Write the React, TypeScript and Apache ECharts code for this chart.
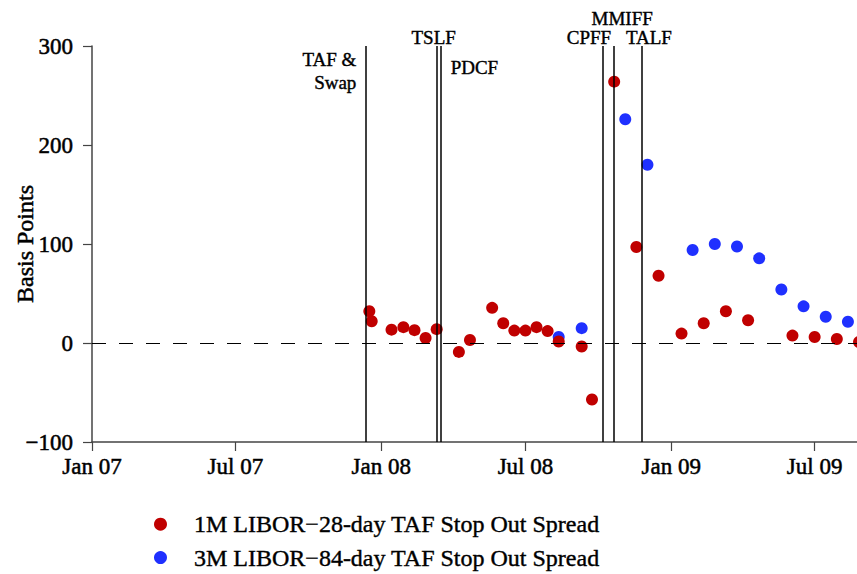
import React, { useEffect, useRef } from "react";
import * as echarts from "echarts";

const red1MDates = [
  "2007-12-17", "2007-12-20", "2008-01-14", "2008-01-29", "2008-02-12", "2008-02-26",
  "2008-03-11", "2008-04-08", "2008-04-22", "2008-05-20", "2008-06-03", "2008-06-17",
  "2008-07-01", "2008-07-15", "2008-07-29", "2008-08-12", "2008-09-10", "2008-09-23",
  "2008-10-21", "2008-11-18", "2008-12-16", "2009-01-14", "2009-02-11", "2009-03-11",
  "2009-04-08", "2009-06-03", "2009-07-01", "2009-07-29", "2009-08-26",
];
const red1MValues = [
  32, 22, 13.5, 16, 13, 5,
  14, -9, 3, 35.5, 20, 12.5,
  12.5, 16, 12, 1.5, -3.5, -57,
  264, 97, 68, 9.5, 20, 32,
  23, 7.5, 6, 4, 1,
];

const blue3MDates = [
  "2008-08-12", "2008-09-10", "2008-11-04", "2008-12-02", "2009-01-28", "2009-02-25",
  "2009-03-25", "2009-04-22", "2009-05-20", "2009-06-17", "2009-07-15", "2009-08-12",
];
const blue3MValues = [6, 15, 226, 180, 94, 100, 97.5, 85.5, 54, 37, 26.5, 21.5];

const eventNames = ["TAF &\nSwap", "TSLF", "PDCF", "CPFF", "MMIFF", "TALF"];
const eventDates = ["2007-12-12", "2008-03-11", "2008-03-16", "2008-10-07", "2008-10-21", "2008-11-25"];

const xTickDates = ["2007-01-01", "2007-07-01", "2008-01-01", "2008-07-01", "2009-01-01", "2009-07-01"];
const xTickLabels = ["Jan 07", "Jul 07", "Jan 08", "Jul 08", "Jan 09", "Jul 09"];
const yTicks = [-100, 0, 100, 200, 300];

const seriesNames = ["1M LIBOR\u221228-day TAF Stop Out Spread", "3M LIBOR\u221284-day TAF Stop Out Spread"];

const ts = (s: string) => {
  const [y, m, d] = s.split("-").map(Number);
  return Date.UTC(y, m - 1, d);
};

const FONT = "'Liberation Serif', 'Times New Roman', serif";
const RED = "#C00000";
const BLUE = "#1F30FF";
const heavy = { textBorderColor: "#000", textBorderWidth: 0.5 };

export default function App() {
  const ref = useRef<HTMLDivElement>(null);
  useEffect(() => {
    if (!ref.current) return;
    const chart = echarts.init(ref.current, null, { renderer: "svg" });
    const tickVals = xTickDates.map(ts);
    chart.setOption({
      animation: false,
      grid: { left: 92, top: 46, bottom: 132, right: -25, containLabel: false, outerBoundsMode: "none" },
      legend: {
        orient: "vertical",
        left: 154,
        top: 512,
        padding: 0,
        icon: "circle",
        itemWidth: 13,
        itemHeight: 13,
        itemGap: 9,
        data: [seriesNames[0], seriesNames[1]],
        textStyle: { fontFamily: FONT, fontSize: 24, color: "#000", padding: [0, 0, 0, 22], ...heavy, textBorderWidth: 0.4 },
      },
      xAxis: {
        type: "value",
        min: ts("2007-01-01"),
        max: ts("2009-09-24"),
        scale: true,
        splitLine: { show: false },
        axisLine: { onZero: false, lineStyle: { color: "#444", width: 1.5 } },
        axisTick: { show: true, customValues: tickVals, length: 9, lineStyle: { color: "#444", width: 1.2 } },
        axisLabel: {
          customValues: tickVals,
          margin: 13,
          fontFamily: FONT,
          fontSize: 23,
          color: "#000",
          ...heavy,
          formatter: (v: number) => {
            const i = tickVals.indexOf(v);
            return i >= 0 ? xTickLabels[i] : "";
          },
        },
      },
      yAxis: {
        type: "value",
        min: yTicks[0],
        max: yTicks[yTicks.length - 1],
        interval: 100,
        name: "Basis Points",
        nameLocation: "middle",
        nameGap: 55,
        nameMoveOverlap: false,
        nameRotate: 90,
        nameTextStyle: { fontFamily: FONT, fontSize: 24, color: "#000", ...heavy },
        splitLine: { show: false },
        axisLine: { show: true, onZero: false, lineStyle: { color: "#444", width: 1.5 } },
        axisTick: { show: true, length: 9, lineStyle: { color: "#444", width: 1.2 } },
        axisLabel: {
          margin: 19,
          fontFamily: FONT,
          fontSize: 23,
          color: "#000",
          ...heavy,
          formatter: (v: number) => String(v).replace("-", "\u2212"),
        },
      },
      series: [
        {
          name: seriesNames[1],
          type: "scatter",
          symbol: "circle",
          symbolSize: 12,
          itemStyle: { color: BLUE, opacity: 1 },
          data: blue3MDates.map((d, i) => [ts(d), blue3MValues[i]]),
          z: 3,
        },
        {
          name: seriesNames[0],
          type: "scatter",
          symbol: "circle",
          symbolSize: 12,
          itemStyle: { color: RED, opacity: 1 },
          data: red1MDates.map((d, i) => [ts(d), red1MValues[i]]),
          z: 4,
          markLine: {
            silent: true,
            symbol: ["none", "none"],
            label: { show: false },
            lineStyle: { color: "#000", type: "solid", width: 1.5 },
            emphasis: { disabled: true },
            data: [
              ...eventDates.map((d) => ({ xAxis: ts(d) })),
              { yAxis: 0, lineStyle: { color: "#000", type: [14, 13], width: 1.2 } },
            ],
          },
        },
      ],
    });

    const px = (d: string) => chart.convertToPixel({ xAxisIndex: 0 }, ts(d)) as number;
    const textStyle = (text: string, align: string) => ({
      text,
      fontFamily: FONT,
      fontSize: 19,
      fill: "#000",
      stroke: "#000",
      lineWidth: 0.4,
      textAlign: align,
      textVerticalAlign: "middle",
      lineHeight: 23,
    });
    const labelSpec = [
      { dx: -9, y: 71, align: "right" },
      { dx: -3, y: 37, align: "center" },
      { dx: 10, y: 67, align: "left" },
      { dx: 8, y: 37, align: "right" },
      { dx: 8, y: 18, align: "center" },
      { dx: 7, y: 37, align: "center" },
    ];
    chart.setOption({
      graphic: eventNames.map((name, i) => ({
        type: "text",
        x: px(eventDates[i]) + labelSpec[i].dx,
        y: labelSpec[i].y,
        silent: true,
        style: textStyle(name, labelSpec[i].align),
      })),
    });

    return () => chart.dispose();
  }, []);
  return (
    <div
      ref={ref}
      style={{ position: "absolute", left: 0, top: 0, width: 857, height: 574, background: "#fff" }}
    />
  );
}
